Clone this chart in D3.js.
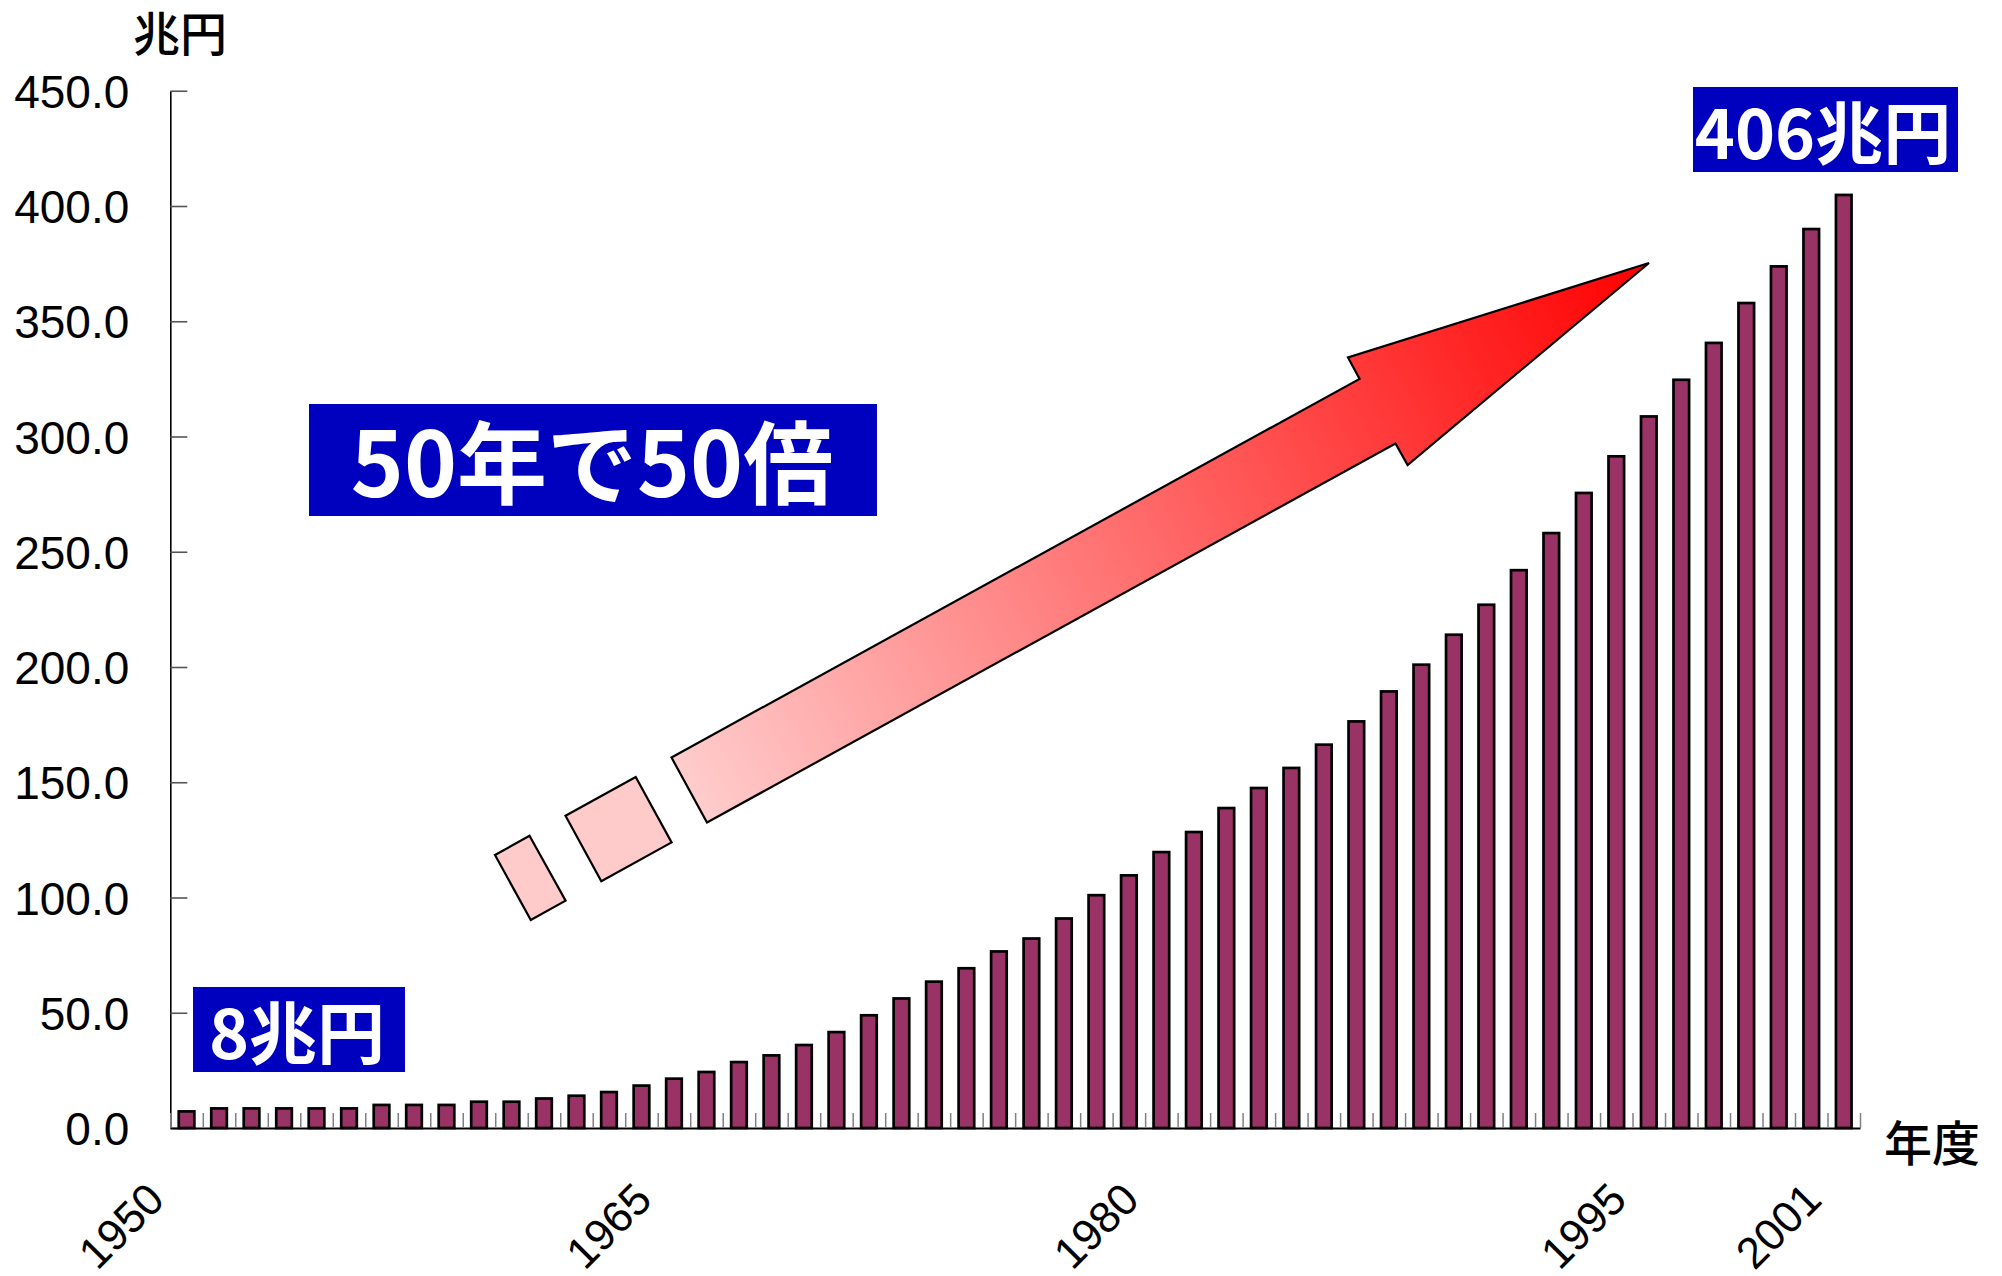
<!DOCTYPE html>
<html>
<head>
<meta charset="utf-8">
<script src="https://cdn.jsdelivr.net/npm/d3@7"></script>
<style>
html, body { margin: 0; padding: 0; background: #ffffff; }
svg { display: block; }
</style>
</head>
<body>
<svg id="chart" width="2002" height="1276"></svg>
<script>
// ---------------- data ----------------
const years = [1950,1951,1952,1953,1954,1955,1956,1957,1958,1959,
               1960,1961,1962,1963,1964,1965,1966,1967,1968,1969,
               1970,1971,1972,1973,1974,1975,1976,1977,1978,1979,
               1980,1981,1982,1983,1984,1985,1986,1987,1988,1989,
               1990,1991,1992,1993,1994,1995,1996,1997,1998,1999,
               2000,2001];
const values = [7.2, 8.5, 8.5, 8.5, 8.5, 8.5, 10.0, 10.0, 10.0, 11.4,
                11.4, 12.8, 14.0, 15.6, 18.4, 21.4, 24.3, 28.6, 31.5, 36.0,
                41.6, 48.9, 56.2, 63.5, 69.3, 76.6, 82.2, 90.9, 101.0, 109.6,
                119.7, 128.4, 138.8, 147.5, 156.2, 166.3, 176.4, 189.4, 201.0, 214.0,
                227.0, 242.0, 258.1, 275.5, 291.4, 308.7, 324.6, 340.6, 357.9, 373.8,
                390.0, 404.8];
const yTicks = [0, 50, 100, 150, 200, 250, 300, 350, 400, 450];
const xLabelYears = [1950, 1965, 1980, 1995, 2001];
const yTitle = "兆円";
const xTitle = "年度";
const startLabel = "8兆円";
const endLabel = "406兆円";
const headline = "50年で50倍";

// ---------------- layout ----------------
const svg = d3.select("#chart");
const NUM_FONT = "'Liberation Sans', Arial, sans-serif";
const JP_FONT = "'Noto Sans CJK JP', 'Noto Sans CJK SC', sans-serif";

const x = d3.scaleBand()
  .domain(years)
  .range([170.3, 1860])
  .paddingInner(0.52)
  .paddingOuter(0.26);
const y = d3.scaleLinear().domain([0, 450]).range([1128, 90.75]);
const xb = d3.scaleLinear().domain([0, years.length]).range(x.range());

// y axis
const gy = svg.append("g")
  .attr("transform", `translate(${x.range()[0]},0)`)
  .call(d3.axisLeft(y).tickValues(yTicks).tickSize(-17).tickSizeOuter(0)
        .tickPadding(41).tickFormat(d3.format(".1f")));
gy.select(".domain").attr("stroke", "#000").attr("stroke-width", 1.6);
gy.selectAll(".tick line").attr("stroke", "#555").attr("stroke-width", 1.6);
gy.selectAll(".tick text")
  .attr("font-family", NUM_FONT).attr("font-size", 46).attr("fill", "#000")
  .attr("dy", "0.36em");

// x axis with minor ticks at category boundaries
const gx = svg.append("g")
  .attr("transform", `translate(0,${y(0)})`)
  .call(d3.axisBottom(xb).tickValues(d3.range(years.length + 1))
        .tickSize(-15).tickSizeOuter(0).tickFormat(""));
gx.select(".domain").attr("stroke", "#000").attr("stroke-width", 2);
gx.selectAll(".tick line").attr("stroke", "#808080").attr("stroke-width", 1.5);

// bars
svg.append("g").selectAll("rect")
  .data(values)
  .join("rect")
  .attr("x", (d, i) => x(years[i]))
  .attr("y", d => y(d))
  .attr("width", x.bandwidth())
  .attr("height", d => y(0) - y(d))
  .attr("fill", "#993366")
  .attr("stroke", "#000")
  .attr("stroke-width", 2.7);

// x tick labels (rotated)
svg.append("g").selectAll("text")
  .data(xLabelYears)
  .join("text")
  .attr("transform", d => `translate(${x(d) + x.bandwidth() / 2 - 20},1202) rotate(-45)`)
  .attr("text-anchor", "end")
  .attr("font-family", NUM_FONT)
  .attr("font-size", 44)
  .attr("fill", "#000")
  .text(d => d);

// axis titles
svg.append("text").attr("x", 133).attr("y", 51)
  .attr("font-family", JP_FONT).attr("font-size", 47).attr("font-weight", 500)
  .attr("fill", "#000")
  .text(yTitle);
svg.append("text").attr("x", 1884).attr("y", 1161)
  .attr("font-family", JP_FONT).attr("font-size", 48).attr("font-weight", 500)
  .attr("fill", "#000")
  .text(xTitle);

// ---------------- arrow annotation ----------------
const defs = svg.append("defs");
const grad = defs.append("linearGradient")
  .attr("id", "arrowGrad")
  .attr("gradientUnits", "userSpaceOnUse")
  .attr("x1", 690).attr("y1", 790).attr("x2", 1649).attr("y2", 263);
grad.append("stop").attr("offset", 0).attr("stop-color", "#ffcccc");
grad.append("stop").attr("offset", 1).attr("stop-color", "#ff0000");

const line = d3.line().curve(d3.curveLinearClosed);
const arrowPts = [[671.5, 757.5], [1359.6, 378.9], [1348, 357.5], [1649, 263],
                  [1407.6, 465], [1395.5, 443.5], [707, 822.5]];
svg.append("path").attr("d", line(arrowPts))
  .attr("fill", "url(#arrowGrad)").attr("stroke", "#000").attr("stroke-width", 2.2)
  .attr("stroke-linejoin", "miter");

const piece1 = [[495, 855], [529.5, 835.8], [565.6, 900.6], [530.8, 920]];
const piece2 = [[565.5, 815.8], [635.7, 777], [671.6, 842.4], [601.3, 881.2]];
[piece1, piece2].forEach(p => {
  svg.append("path").attr("d", line(p))
    .attr("fill", "#ffcaca").attr("stroke", "#000").attr("stroke-width", 2.2);
});

// ---------------- label boxes ----------------
function labelBox(x0, y0, w, h, txt, size, tx, ty) {
  svg.append("rect").attr("x", x0).attr("y", y0).attr("width", w).attr("height", h)
    .attr("fill", "#0000bf");
  svg.append("text").attr("x", tx).attr("y", ty)
    .attr("text-anchor", "middle")
    .attr("font-family", JP_FONT).attr("font-weight", 700)
    .attr("font-size", size).attr("fill", "#fff")
    .text(txt);
}
labelBox(309, 404, 568, 112, headline, 90, 592, 497);
labelBox(193, 987, 212, 85, startLabel, 68, 297, 1059);
labelBox(1693, 87, 265, 85, endLabel, 68, 1823, 159);
</script>
</body>
</html>
